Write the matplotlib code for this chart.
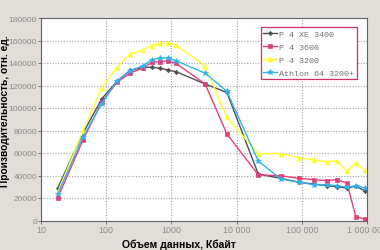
import matplotlib
matplotlib.use("Agg")
import matplotlib.pyplot as plt
from matplotlib.ticker import FixedLocator, NullLocator

sizes = [18, 44, 85, 146, 234, 365, 500, 680, 880, 1175, 3300, 7100,
         21500, 47300, 90000, 155000, 241000, 346000, 492000, 675000, 917000]

p4xe3400 = [28600, 77500, 108000, 123700, 133500, 136000, 136200, 135300, 133800, 132300,
            121300, 113800, 41300, 37500, 34000, 32400, 31000, 30000, 28900, 30400, 26500]
p4_3600 = [20000, 71500, 105000, 122800, 131100, 135500, 140600, 141200, 142000, 139700,
           121300, 76900, 40600, 39800, 37500, 36300, 35400, 36300, 33300, 3400, 1300]
p4_3200 = [25000, 79300, 117700, 136000, 148000, 151500, 155500, 157500, 157800, 156000,
           137600, 91700, 59400, 59500, 55900, 54000, 52300, 53200, 43700, 50800, 45200]
athlon = [23600, 74000, 103500, 124000, 133000, 137600, 142700, 144400, 144700, 142000,
          131000, 114800, 52800, 37000, 34000, 31800, 31600, 31000, 29500, 31000, 28900]

names = ["P 4 XE 3400", "P 4 3600", "P 4 3200", "Athlon 64 3200+"]
series = [p4xe3400, p4_3600, p4_3200, athlon]
colors = ["#505050", "#e0407a", "#ffff30", "#30b4f0"]
markers = ["D", "s", "^", "*"]
msizes = [2.2, 3.5, 3.5, 4]

xticks = [10, 100, 1000, 10000, 100000, 1000000]
xticklabels = ["10", "100", "1000", "10 000", "100 000", "1 000 000"]
yticks = list(range(0, 180001, 20000))
yticklabels = [str(v) for v in yticks]

fig = plt.figure(figsize=(3.8, 2.51), dpi=100)
fig.patch.set_facecolor("#e3ddd8")
ax = fig.add_axes([41/380, 1-221.5/251, (367-41)/380, (221.5-19)/251])
ax.set_facecolor("white")

for name, ys, c, m, ms in zip(names, series, colors, markers, msizes):
    ax.plot(sizes, ys, color=c, marker=m, markersize=ms, linewidth=1.0, label=name,
            markeredgewidth=0.5)

ax.set_xscale("log")
ax.set_xlim(10, 1000000)
ax.set_ylim(0, 180000)
ax.xaxis.set_major_locator(FixedLocator(xticks))
ax.xaxis.set_minor_locator(NullLocator())
ax.set_xticklabels(xticklabels)
ax.set_yticks(yticks)
ax.set_yticklabels(yticklabels)
ax.tick_params(axis="both", labelsize=6.0, labelcolor="#8a8a8a", color="#606060",
               length=2, width=0.6, pad=0.8)
ax.tick_params(axis="x", pad=1.5, labelsize=6.4)
for lab in ax.get_xticklabels() + ax.get_yticklabels():
    lab.set_family("Liberation Sans")
ax.grid(True, which="major", linestyle=(0, (1, 1.5)), color="#a0a0a0", linewidth=0.8)
for s in ax.spines.values():
    s.set_color("#606070")
    s.set_linewidth(0.8)

leg = ax.legend(loc="upper right", bbox_to_anchor=(0.970, 0.954),
                prop={"family": "Liberation Mono", "size": 6.0},
                frameon=True, fancybox=False, handlelength=1.6, handletextpad=0.3,
                borderpad=0.35, labelspacing=0.6, borderaxespad=0)
leg.get_frame().set_edgecolor("#d03060")
leg.get_frame().set_linewidth(0.9)
leg.get_frame().set_alpha(1)
for t in leg.get_texts():
    t.set_color("#707070")

fig.text(179/380, 1-245/251, "Объем данных, Кбайт", ha="center", va="center",
         fontsize=7.5, fontweight="bold", color="black", family="Liberation Sans")
fig.text(5/380, 1-111/251, "Производительность, отн. ед.", ha="center", va="center",
         rotation=90, fontsize=7.3, fontweight="bold", color="black",
         family="Liberation Sans")

fig.savefig("out.png", dpi=100, facecolor=fig.get_facecolor())
